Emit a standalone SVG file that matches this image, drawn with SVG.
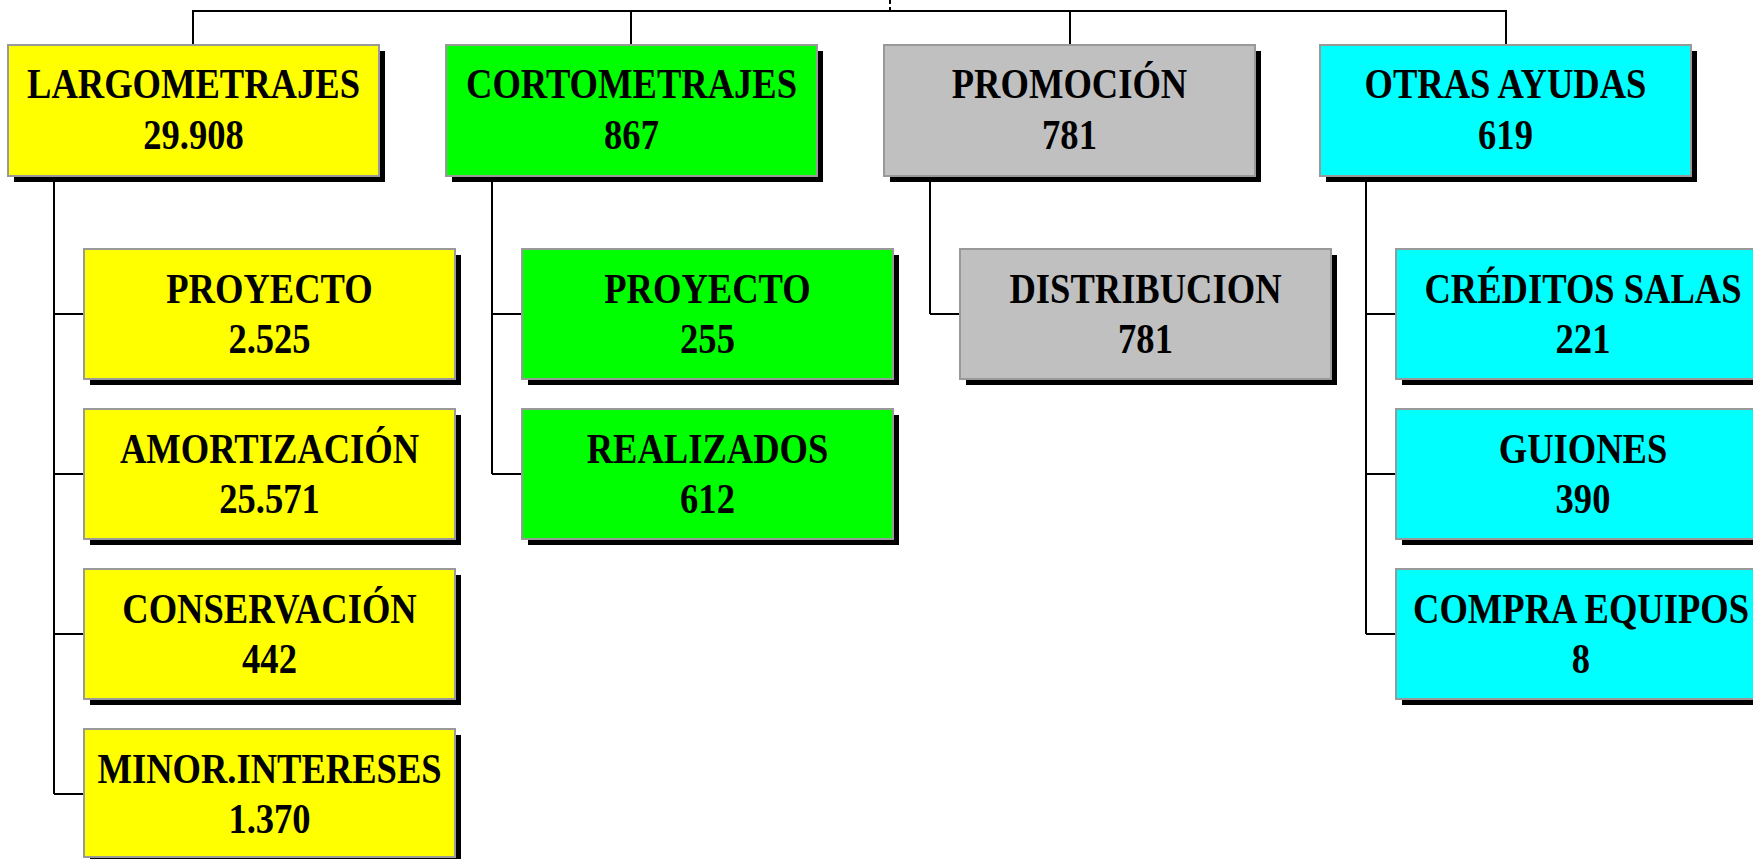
<svg xmlns="http://www.w3.org/2000/svg" width="1753" height="859" viewBox="0 0 1753 859">
<style>
.sh{fill:#000}
.bx{stroke:#999;stroke-width:2}
.y{fill:#ffff00}.g{fill:#00ff00}.s{fill:#c0c0c0}.c{fill:#00ffff}
.t{font-family:"Liberation Serif","Times New Roman",serif;font-weight:bold;font-size:43px;text-anchor:middle;fill:#000}
.ln{stroke:#000;stroke-width:2;fill:none}
</style>
<rect width="1753" height="859" fill="#fff"/>
<g id="connectors">
<line class="ln" x1="890" y1="0" x2="890" y2="11" stroke-dasharray="4,3" stroke-width="1.5"/>
<polyline class="ln" points="193,45 193,11 1506,11 1506,45" stroke-width="1.5"/>
<line class="ln" x1="631" y1="11" x2="631" y2="45" stroke-width="1.5"/>
<line class="ln" x1="1070" y1="11" x2="1070" y2="45" stroke-width="1.5"/>
<path class="ln" d="M54,176V794M54,314H84M54,474H84M54,634H84M54,794H84"/>
<path class="ln" d="M492,176V474M492,314H522M492,474H522"/>
<path class="ln" d="M930,176V314M930,314H960"/>
<path class="ln" d="M1366,176V634M1366,314H1396M1366,474H1396M1366,634H1396"/>
</g>
<g id="largometrajes"><rect class="sh" x="14" y="51" width="371" height="131"/><rect class="bx y" x="8" y="45" width="371" height="131"/>
<g transform="translate(193.5,0) scale(0.85,1)"><text class="t" x="0" y="98.5">LARGOMETRAJES</text><text class="t" x="0" y="149">29.908</text></g></g>
<g id="cortometrajes"><rect class="sh" x="452" y="51" width="371" height="131"/><rect class="bx g" x="446" y="45" width="371" height="131"/>
<g transform="translate(631.5,0) scale(0.85,1)"><text class="t" x="0" y="98.5">CORTOMETRAJES</text><text class="t" x="0" y="149">867</text></g></g>
<g id="promocion"><rect class="sh" x="890" y="51" width="371" height="131"/><rect class="bx s" x="884" y="45" width="371" height="131"/>
<g transform="translate(1069.5,0) scale(0.85,1)"><text class="t" x="0" y="98.5">PROMOCIÓN</text><text class="t" x="0" y="149">781</text></g></g>
<g id="otras"><rect class="sh" x="1326" y="51" width="371" height="131"/><rect class="bx c" x="1320" y="45" width="371" height="131"/>
<g transform="translate(1505.5,0) scale(0.85,1)"><text class="t" x="0" y="98.5">OTRAS AYUDAS</text><text class="t" x="0" y="149">619</text></g></g>

<g id="l-proyecto"><rect class="sh" x="90" y="255" width="371" height="130"/><rect class="bx y" x="84" y="249" width="371" height="130"/>
<g transform="translate(269.5,0) scale(0.85,1)"><text class="t" x="0" y="303">PROYECTO</text><text class="t" x="0" y="353">2.525</text></g></g>
<g id="l-amortizacion"><rect class="sh" x="90" y="415" width="371" height="130"/><rect class="bx y" x="84" y="409" width="371" height="130"/>
<g transform="translate(269.5,0) scale(0.85,1)"><text class="t" x="0" y="463">AMORTIZACIÓN</text><text class="t" x="0" y="513">25.571</text></g></g>
<g id="l-conservacion"><rect class="sh" x="90" y="575" width="371" height="130"/><rect class="bx y" x="84" y="569" width="371" height="130"/>
<g transform="translate(269.5,0) scale(0.85,1)"><text class="t" x="0" y="623">CONSERVACIÓN</text><text class="t" x="0" y="673">442</text></g></g>
<g id="l-minor"><rect class="sh" x="90" y="735" width="371" height="130"/><rect class="bx y" x="84" y="729" width="371" height="128"/>
<g transform="translate(269.5,0) scale(0.85,1)"><text class="t" x="0" y="783">MINOR.INTERESES</text><text class="t" x="0" y="833">1.370</text></g></g>

<g id="c-proyecto"><rect class="sh" x="528" y="255" width="371" height="130"/><rect class="bx g" x="522" y="249" width="371" height="130"/>
<g transform="translate(707.5,0) scale(0.85,1)"><text class="t" x="0" y="303">PROYECTO</text><text class="t" x="0" y="353">255</text></g></g>
<g id="c-realizados"><rect class="sh" x="528" y="415" width="371" height="130"/><rect class="bx g" x="522" y="409" width="371" height="130"/>
<g transform="translate(707.5,0) scale(0.85,1)"><text class="t" x="0" y="463">REALIZADOS</text><text class="t" x="0" y="513">612</text></g></g>

<g id="p-distribucion"><rect class="sh" x="966" y="255" width="371" height="130"/><rect class="bx s" x="960" y="249" width="371" height="130"/>
<g transform="translate(1145.5,0) scale(0.85,1)"><text class="t" x="0" y="303">DISTRIBUCION</text><text class="t" x="0" y="353">781</text></g></g>

<g id="o-creditos"><rect class="sh" x="1402" y="255" width="371" height="130"/><rect class="bx c" x="1396" y="249" width="371" height="130"/>
<g transform="translate(1583,0) scale(0.85,1)"><text class="t" x="0" y="303">CRÉDITOS SALAS</text><text class="t" x="0" y="353">221</text></g></g>
<g id="o-guiones"><rect class="sh" x="1402" y="415" width="371" height="130"/><rect class="bx c" x="1396" y="409" width="371" height="130"/>
<g transform="translate(1583,0) scale(0.85,1)"><text class="t" x="0" y="463">GUIONES</text><text class="t" x="0" y="513">390</text></g></g>
<g id="o-compra"><rect class="sh" x="1402" y="575" width="371" height="130"/><rect class="bx c" x="1396" y="569" width="371" height="130"/>
<g transform="translate(1581,0) scale(0.85,1)"><text class="t" x="0" y="623">COMPRA EQUIPOS</text><text class="t" x="0" y="673">8</text></g></g>
</svg>
